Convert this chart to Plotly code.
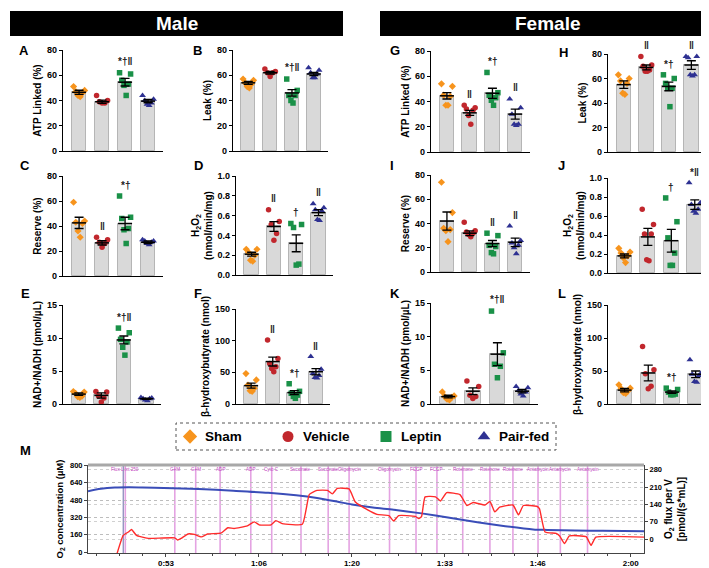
import numpy as np
import plotly.graph_objects as go

W, H = 709, 568
FONT = "Arial, 'Liberation Sans', Helvetica, sans-serif"

groups = ["Sham", "Vehicle", "Leptin", "Pair-fed"]
group_colors = ["#F7941D", "#C1272D", "#1A9148", "#2E3192"]
group_symbols = ["diamond", "circle", "square", "triangle-up"]

# ---------------- Male ----------------
A_points = [[51, 48, 47, 44, 43, 46], [44, 40, 39, 38, 38], [62, 61, 56, 53, 52, 44], [44, 41, 40, 38, 37, 36]]
A_mean = [46.5, 39.0, 54.5, 39.5]
A_sem = [1.6, 1.3, 3.0, 1.3]
A_sig = ["", "", "*†‖", ""]

B_points = [[57, 56, 54, 53, 50, 51], [65, 63, 62, 62, 59], [57, 48, 44, 44, 40, 38], [66, 64, 62, 61, 58, 58]]
B_mean = [54.0, 62.0, 46.0, 61.0]
B_sem = [1.2, 1.0, 2.6, 1.3]
B_sig = ["", "", "*†‖", ""]

C_points = [[59, 44, 43, 42, 36, 31], [31, 29, 27, 26, 23], [64, 47, 46, 38, 37, 26], [29, 28, 28, 27, 26, 25]]
C_mean = [42.5, 26.5, 42.0, 27.0]
C_sem = [4.5, 1.7, 5.0, 1.0]
C_sig = ["", "‖", "*†", ""]

D_points = [[0.26, 0.26, 0.23, 0.20, 0.15, 0.14], [0.66, 0.54, 0.51, 0.42, 0.35],
            [0.52, 0.51, 0.48, 0.11, 0.10], [0.72, 0.68, 0.66, 0.65, 0.56, 0.55]]
D_mean = [0.21, 0.49, 0.32, 0.63]
D_sem = [0.02, 0.05, 0.085, 0.03]
D_sig = ["", "‖", "†", "‖"]

E_points = [[1.9, 1.8, 1.6, 1.2, 1.1, 1.0], [1.9, 1.8, 1.2, 0.9, 0.3],
            [11.5, 10.8, 9.8, 9.4, 8.6, 7.4], [1.0, 0.9, 0.8, 0.8, 0.6, 0.5]]
E_mean = [1.5, 1.3, 9.7, 0.8]
E_sem = [0.2, 0.4, 0.6, 0.1]
E_sig = ["", "", "*†‖", ""]

F_points = [[48, 38, 30, 25, 21, 20], [101, 72, 64, 59, 56, 51], [32, 20, 17, 14, 12, 9], [75, 55, 48, 45, 42, 41]]
F_mean = [29, 67, 18, 51]
F_sem = [4, 7, 3, 5]
F_sig = ["", "‖", "*†", "‖"]

# ---------------- Female ----------------
G_points = [[54, 52, 45, 44, 37, 37], [37, 35, 34, 33, 29, 22], [63, 47, 45, 43, 41, 37], [42, 35, 30, 22, 22, 21]]
G_mean = [44.5, 31.0, 46.5, 30.0]
G_sem = [2.5, 2.0, 4.0, 4.0]
G_sig = ["", "‖", "*†", "‖"]

H_points = [[63, 60, 58, 56, 48, 47], [78, 71, 70, 67, 66, 66], [63, 60, 56, 52, 52, 37], [78, 78, 77, 63, 62, 63]]
H_mean = [55.0, 69.0, 53.5, 71.0]
H_sem = [3.0, 2.0, 3.5, 3.5]
H_sig = ["", "‖", "*†", "‖"]

I_points = [[74, 49, 36, 35, 34, 25], [41, 34, 33, 32, 31, 29], [32, 30, 22, 21, 16, 15], [38, 26, 24, 22, 20, 15]]
I_mean = [42.0, 32.0, 23.5, 24.5]
I_sem = [7.5, 2.0, 2.5, 3.5]
I_sig = ["", "", "‖", "‖"]

J_points = [[0.26, 0.22, 0.21, 0.18, 0.16, 0.11], [0.67, 0.51, 0.41, 0.41, 0.14, 0.13],
            [0.79, 0.54, 0.37, 0.21, 0.08, 0.08], [0.95, 0.74, 0.72, 0.67, 0.65, 0.63]]
J_mean = [0.18, 0.38, 0.34, 0.72]
J_sem = [0.02, 0.09, 0.12, 0.05]
J_sig = ["", "", "†", "*‖"]

K_points = [[1.8, 1.2, 1.1, 1.0, 0.7, 0.6], [3.4, 2.6, 1.3, 1.1, 0.8],
            [13.8, 7.6, 5.9, 5.6, 3.9], [2.6, 2.4, 2.0, 1.8, 1.5, 1.2]]
K_mean = [1.1, 1.9, 7.4, 1.9]
K_sem = [0.2, 0.5, 1.7, 0.25]
K_sig = ["", "", "*†‖", ""]

L_points = [[29, 24, 23, 20, 17, 16], [87, 52, 46, 27, 23], [24, 22, 18, 15, 14, 14], [67, 47, 45, 43, 34, 33]]
L_mean = [21, 47, 18, 45]
L_sem = [2.5, 12, 2, 5]
L_sig = ["", "", "*†", ""]

# ---------------- Panel M (oxygraph trace) ----------------
m_time_conc = [42.15, 44, 46, 48, 50, 53, 58, 63, 68, 72, 75, 78, 80, 83, 86, 90, 94, 98, 102, 106, 108, 112, 116, 121.9]
m_o2_conc = [562, 585, 597, 600, 598, 592, 583, 567, 548, 525, 500, 465, 440, 412, 392, 358, 318, 276, 240, 210, 205, 200, 197, 193]

m_time_flux = [46.3, 47.2, 48.0, 48.4, 49.1, 49.8, 50.8, 54.6, 55.0, 55.5, 56.5, 57.4, 58.4, 59.3, 61.2, 62.2,
               63.1, 65.0, 66.0, 66.7, 68.4, 69.1, 70.0, 72.9, 73.9, 75.0, 76.5, 77.2, 77.9, 79.6, 80.5, 82.2,
               83.6, 85.3, 86.0, 86.7, 89.1, 89.6, 90.0, 90.5, 92.0, 92.7, 93.6, 95.5, 96.5, 97.4, 99.1, 99.8,
               100.5, 101.2, 103.1, 103.9, 104.6, 106.5, 106.9, 107.7, 109.3, 109.8, 110.5, 111.2, 113.6, 114.3,
               115.0, 121.9]
m_o2_flux = [-60, 15, 30, 39, 15, 9, 3, 5, -3.5, 3, 21, 19, 9, 21, 24, 46,
             43, 54, 70, 58, 58, 75, 63, 60, 181, 197, 197, 183, 205, 203, 150, 119,
             100, 95, 73, 95, 92, 83, 92, 171, 171, 154, 188, 180, 136, 148, 138, 152,
             110, 129, 138, 98, 136, 133, 123, 29, 23, 13, -18, 13, 10, -25,
             8, 8]

event_times = [47.5, 54.6, 57.6, 61.1, 65.5, 68.5, 72.7, 76.6, 79.6, 85.4, 89.2, 92.2, 95.9, 99.8, 103.1, 106.7, 109.9, 113.8]
event_labels = ["Flux L int 250", "G+M", "G+M", "ADP", "ADP", "Cyto C", "Succinate", "Succinate", "Oligomycin",
                "Oligomycin", "FCCP", "FCCP", "Rotenone", "Rotenone", "Rotenone", "Antamycin", "Antamycin", "Antamycin"]
marker_time = 47.2

m_tick_seconds = [3200, 4000, 4800, 5600, 6400, 7200]
m_tick_text = ["0:53", "1:06", "1:20", "1:33", "1:46", "2:00"]
conc_ticks = [0, 160, 320, 480, 640, 800]
flux_ticks = [0, 70, 140, 210, 280]

# ---------------- layout helpers ----------------
def fx(p):
    return p / W


def fy(p):
    return 1 - p / H


def names(k):
    if k == 1:
        return "xaxis", "yaxis", "x", "y"
    return f"xaxis{k}", f"yaxis{k}", f"x{k}", f"y{k}"


def spread(vals, half=0.24):
    n = len(vals)
    order = np.argsort(-np.asarray(vals), kind="stable")
    slots = np.linspace(-half, half, n)
    seq = []
    lo, hi = 0, n - 1
    while lo <= hi:
        seq.append(lo)
        if hi != lo:
            seq.append(hi)
        lo += 1
        hi -= 1
    off = np.zeros(n)
    for rank, idx in enumerate(order):
        off[idx] = slots[seq[rank]]
    return off


h2o2_title = "H<sub>2</sub>O<sub>2</sub><br>(nmol/min/mg)"
panels = [
    ("A", "ATP Linked (%)", A_points, A_mean, A_sem, A_sig, 80, 20, (55, 155, 42, 143), (9, 43)),
    ("B", "Leak (%)", B_points, B_mean, B_sem, B_sig, 80, 20, (225, 320, 42, 143), (183, 43)),
    ("C", "Reserve (%)", C_points, C_mean, C_sem, C_sig, 80, 20, (55, 155, 168, 268), (10, 158)),
    ("D", h2o2_title, D_points, D_mean, D_sem, D_sig, 1.0, 0.2, (228, 325, 168, 267), (184, 158)),
    ("E", "NAD+/NADH (pmol/µL)", E_points, E_mean, E_sem, E_sig, 15, 5, (55, 153, 297, 396), (11, 285)),
    ("F", "β-hydroxybutyrate (nmol)", F_points, F_mean, F_sem, F_sig, 150, 50, (228, 322, 301, 396), (184, 285)),
    ("G", "ATP Linked (%)", G_points, G_mean, G_sem, G_sig, 80, 20, (423, 522, 43, 144), (380, 43)),
    ("H", "Leak (%)", H_points, H_mean, H_sem, H_sig, 80, 20, (600, 698, 46, 144), (549, 45)),
    ("I", "Reserve (%)", I_points, I_mean, I_sem, I_sig, 80, 20, (423, 522, 167, 264), (380, 157)),
    ("J", h2o2_title, J_points, J_mean, J_sem, J_sig, 1.0, 0.2, (600, 702, 170, 265), (548, 158)),
    ("K", "NAD+/NADH (pmol/µL)", K_points, K_mean, K_sem, K_sig, 15, 5, (423, 530, 295, 396), (380, 285)),
    ("L", "β-hydroxybutyrate (nmol)", L_points, L_mean, L_sem, L_sig, 150, 50, (600, 703, 297, 396), (548, 285)),
]

fig = go.Figure()
layout = {}
annotations = []
shapes = []

tick_font = dict(family=FONT, size=9, color="black", weight="bold")
title_font = dict(family=FONT, size=10, color="black", weight="bold")

for k, (letter, ytitle, pts, means, sems, sigs, ymax, dtick, box, lpos) in enumerate(panels, start=1):
    xa, ya, xr, yr = names(k)
    x0, x1, yt, yb = box
    cats = list(range(len(groups)))
    layout[xa] = dict(domain=[fx(x0), fx(x1)], range=[-0.7, 3.65], anchor=yr, showline=True,
                      linecolor="black", linewidth=1.2, showticklabels=False, ticks="", showgrid=False,
                      zeroline=False, fixedrange=True)
    layout[ya] = dict(domain=[fy(yb), fy(yt)], range=[0, ymax], anchor=xr, showline=True,
                      linecolor="black", linewidth=1.2, ticks="outside", ticklen=3, tickwidth=1.2,
                      tickcolor="black", dtick=dtick, tick0=0, tickfont=tick_font,
                      tickformat=".1f" if ymax <= 1 else "d", showgrid=False, zeroline=False,
                      title=dict(text=ytitle, font=title_font, standoff=3), fixedrange=True)
    fig.add_trace(go.Bar(x=cats, y=means, width=0.64, xaxis=xr, yaxis=yr, showlegend=False,
                         marker=dict(color="#D9D9D9", line=dict(color="#B5B5B5", width=1))))
    for g in cats:
        vals = pts[g]
        fig.add_trace(go.Scatter(x=g + spread(vals), y=vals, mode="markers", xaxis=xr, yaxis=yr,
                                 showlegend=False, cliponaxis=False,
                                 marker=dict(symbol=group_symbols[g], color=group_colors[g],
                                             size=6 if group_symbols[g] == "triangle-up" else 5.5,
                                             line=dict(width=0))))
    fig.add_trace(go.Scatter(x=cats, y=means, mode="markers", xaxis=xr, yaxis=yr, showlegend=False,
                             cliponaxis=False,
                             marker=dict(symbol="line-ew", size=10, color="black",
                                         line=dict(color="black", width=1.5)),
                             error_y=dict(type="data", array=sems, visible=True, color="black",
                                          thickness=1.3, width=4.5)))
    for g in cats:
        if sigs[g]:
            top = max(pts[g]) + 0.11 * ymax
            yp = fy(yb) + (top / ymax) * (fy(yt) - fy(yb))
            annotations.append(dict(x=g, y=yp, xref=xr, yref="paper", text=sigs[g],
                                    showarrow=False, yanchor="middle",
                                    font=dict(family=FONT, size=10, color="#222222", weight="bold")))
    annotations.append(dict(x=fx(lpos[0]), y=fy(lpos[1]), xref="paper", yref="paper", text=letter,
                            showarrow=False, xanchor="left", yanchor="middle",
                            font=dict(family=FONT, size=13, color="black", weight="bold")))

# ---------------- headers ----------------
for label, (hx0, hx1) in (("Male", (2, 335)), ("Female", (372, 707))):
    shapes.append(dict(type="rect", xref="paper", yref="paper", x0=fx(hx0), x1=fx(hx1), y0=fy(28), y1=fy(3),
                       fillcolor="black", line=dict(width=0), layer="above"))
    annotations.append(dict(x=fx((hx0 + hx1) / 2), y=fy(15.5), xref="paper", yref="paper", text=label,
                            showarrow=False, xanchor="center", yanchor="middle",
                            font=dict(family=FONT, size=19, color="white", weight="bold")))

# ---------------- legend ----------------
lk = 15
xa, ya, xr, yr = names(lk)
layout[xa] = dict(domain=[fx(168), fx(548)], range=[-0.143, 3.735], visible=False, anchor=yr, fixedrange=True)
layout[ya] = dict(domain=[fy(442), fy(415)], range=[0, 1], visible=False, anchor=xr, fixedrange=True)
shapes.append(dict(type="rect", xref="paper", yref="paper", x0=fx(168), x1=fx(548), y0=fy(442), y1=fy(415),
                   line=dict(color="#555555", width=1, dash="dot"), fillcolor="rgba(0,0,0,0)"))
for g, name in enumerate(groups):
    fig.add_trace(go.Scatter(x=[g], y=[0.5], mode="markers", xaxis=xr, yaxis=yr, showlegend=False,
                             marker=dict(symbol=group_symbols[g], color=group_colors[g], size=11)))
    annotations.append(dict(x=g, y=0.5, xref=xr, yref=yr, text=name, showarrow=False, xanchor="left",
                            yanchor="middle", xshift=13,
                            font=dict(family=FONT, size=13.5, color="black", weight="bold")))

# ---------------- panel M ----------------
mk = 13
xa, ya, xr, yr = names(mk)
ya2 = "yaxis14"
mx0, mx1, mtop, mbot = 80, 636, 457, 545
conc_lo, conc_hi = -8, 805
flux_of = lambda c: (c - 120) * 0.4375
layout[xa] = dict(domain=[fx(mx0), fx(mx1)], range=[42.15, 121.9], anchor=yr, showline=True,
                  linecolor="#444444", linewidth=1, tickvals=[s / 60 for s in m_tick_seconds],
                  ticktext=m_tick_text, ticks="outside", ticklen=2.5, tickcolor="#444444",
                  tickfont=dict(family=FONT, size=8, color="black", weight="bold"),
                  minor=dict(tickmode="linear", tick0=120, dtick=10 / 3, ticks="outside", ticklen=2,
                             tickcolor="#444444", showgrid=False),
                  showgrid=False, zeroline=False, fixedrange=True)
layout[ya] = dict(domain=[fy(mbot), fy(mtop)], range=[conc_lo, conc_hi], anchor=xr, showline=True,
                  linecolor="#444444", linewidth=1, tickvals=conc_ticks, ticks="outside", ticklen=3,
                  tickcolor="#444444", tickfont=dict(family=FONT, size=7.5, color="black", weight="bold"),
                  showgrid=True, gridcolor="#BDBDBD", griddash="dot", gridwidth=1, zeroline=False,
                  title=dict(text="O<sub>2</sub> concentration (µM)", standoff=4,
                             font=dict(family=FONT, size=9.5, color="black", weight="bold")),
                  fixedrange=True)
layout[ya2] = dict(domain=[fy(mbot), fy(mtop)], range=[flux_of(conc_lo), flux_of(conc_hi)], anchor=xr,
                   overlaying=yr, side="right", showline=True, linecolor="#444444", linewidth=1,
                   tickvals=flux_ticks, ticks="outside", ticklen=3, tickcolor="#444444",
                   tickfont=dict(family=FONT, size=7.5, color="black", weight="bold"),
                   showgrid=True, gridcolor="#D0D0D0", griddash="dot", gridwidth=1, zeroline=False,
                   title=dict(text="O<sub>2</sub> flux per V<br>[pmol/(s*mL)]", standoff=3,
                              font=dict(family=FONT, size=10, color="black", weight="bold")),
                   fixedrange=True)

for t in event_times:
    shapes.append(dict(type="line", xref=xr, yref=f"{yr} domain", x0=t, x1=t, y0=0, y1=1,
                       line=dict(color="#E4A3E2", width=1.6), layer="below"))
shapes.append(dict(type="line", xref=xr, yref=f"{yr} domain", x0=marker_time, x1=marker_time, y0=0, y1=1,
                   line=dict(color="#6B6BA8", width=1), layer="below"))
shapes.append(dict(type="line", xref=f"{xr} domain", yref=f"{yr} domain", x0=0, x1=1, y0=1, y1=1,
                   line=dict(color="#A8A8A8", width=3)))
for t, lab in zip(event_times, event_labels):
    annotations.append(dict(x=t, y=0.95, xref=xr, yref=f"{yr} domain", text=lab, showarrow=False,
                            xanchor="center", yanchor="middle",
                            font=dict(family=FONT, size=4.6, color="#C23FC0")))

fig.add_trace(go.Scatter(x=m_time_conc, y=m_o2_conc, mode="lines", xaxis=xr, yaxis=yr, showlegend=False,
                         line=dict(color="#3A4DB8", width=2, shape="spline", smoothing=0.8)))
fig.add_trace(go.Scatter(x=m_time_flux, y=m_o2_flux, mode="lines", xaxis=xr, yaxis="y14", showlegend=False,
                         line=dict(color="#FF2B2B", width=1.4, shape="spline", smoothing=0.4)))

annotations.append(dict(x=fx(10), y=fy(442), xref="paper", yref="paper", text="M", showarrow=False,
                        xanchor="left", yanchor="middle",
                        font=dict(family=FONT, size=13, color="black", weight="bold")))

fig.update_layout(width=W, height=H, margin=dict(l=0, r=0, t=0, b=0), template="none",
                  paper_bgcolor="white", plot_bgcolor="rgba(0,0,0,0)", showlegend=False,
                  font=dict(family=FONT), annotations=annotations, shapes=shapes, bargap=0, **layout)

fig.write_html("out.html")
